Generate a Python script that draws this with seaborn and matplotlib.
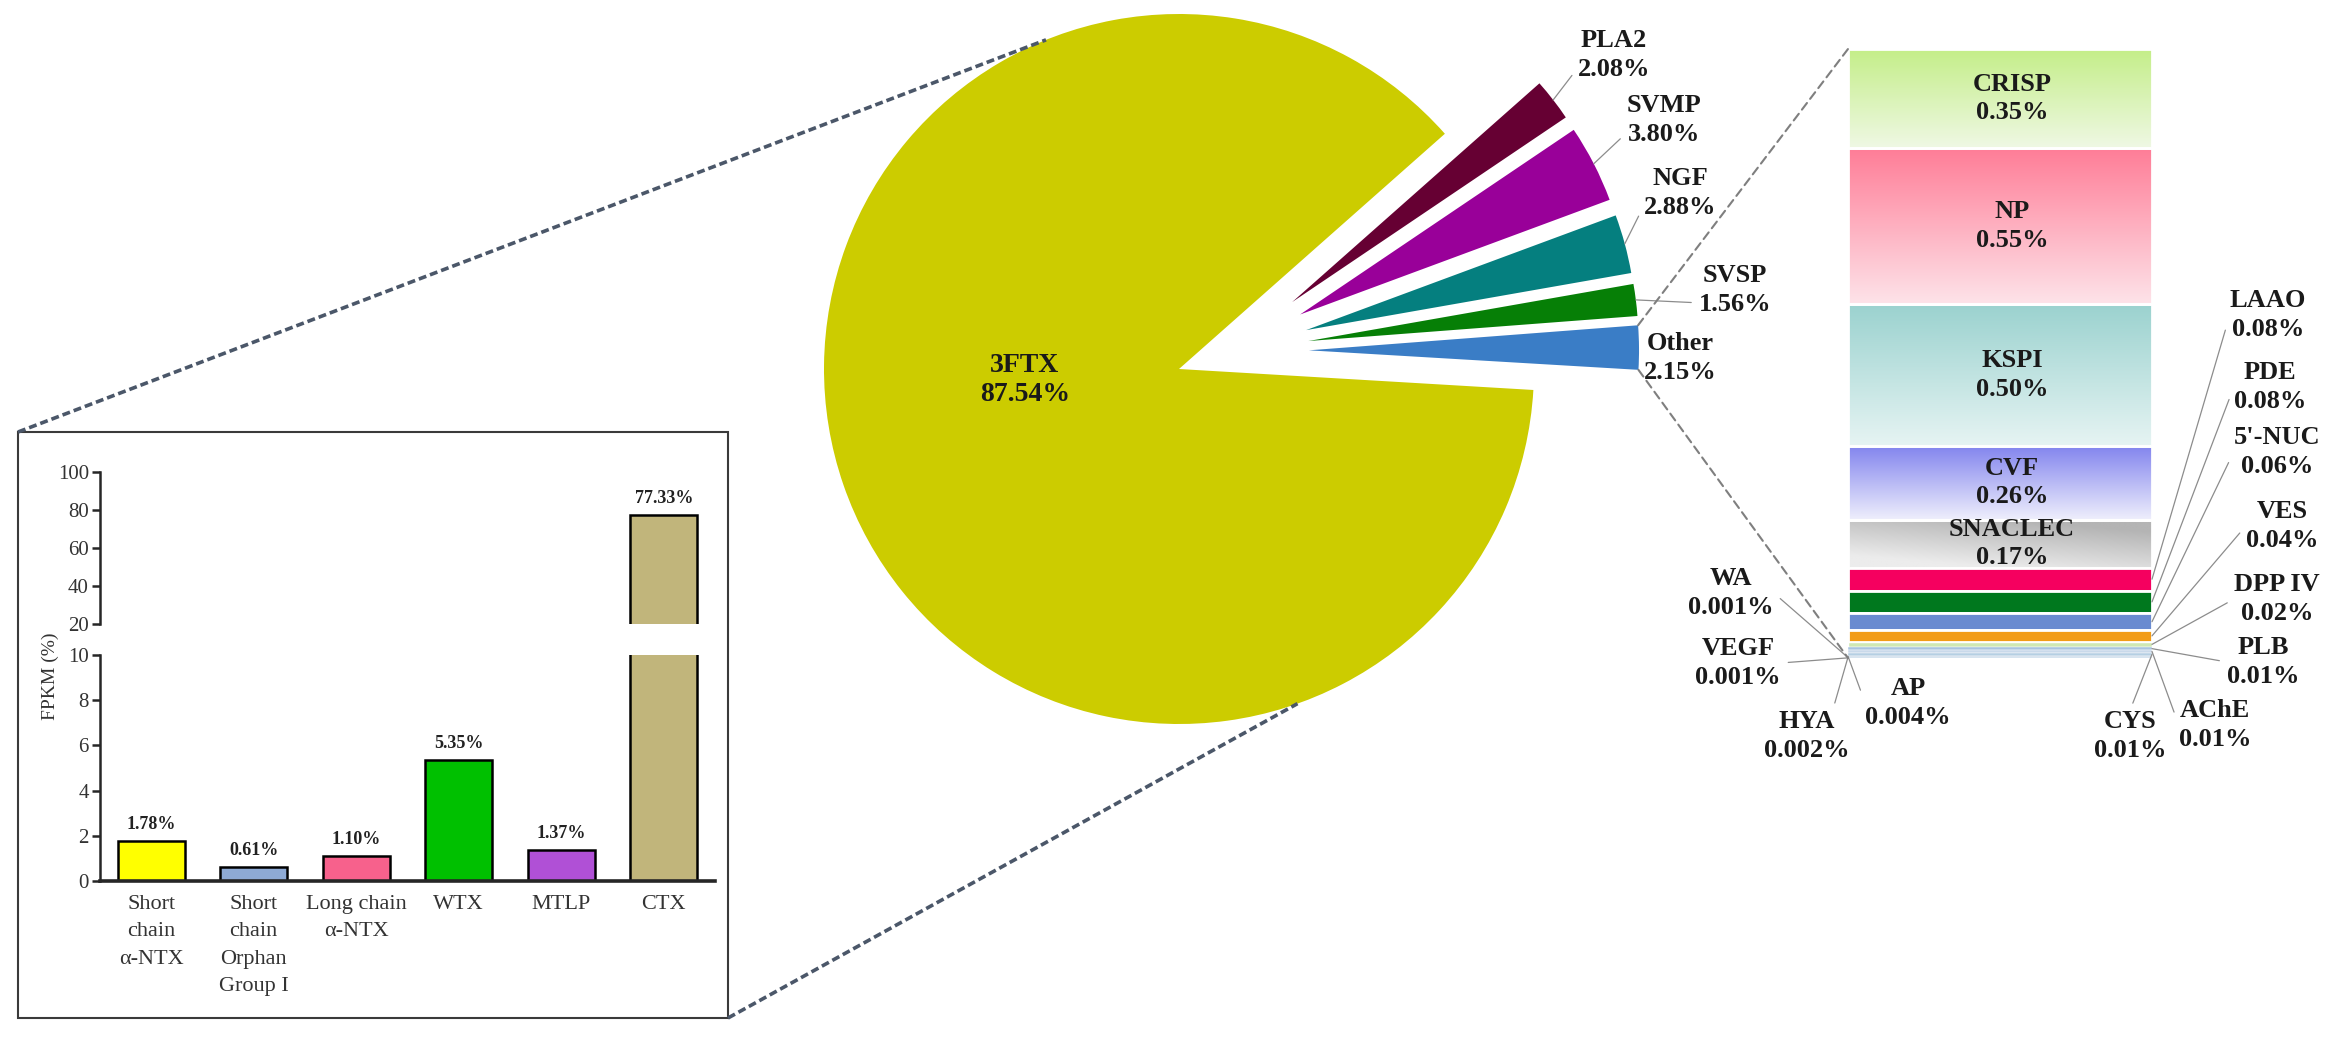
"""
Venom transcriptome composition: 3FTX breakdown, main pie, and 'Other' breakdown.
"""
import matplotlib
matplotlib.use('Agg')
import matplotlib.pyplot as plt
import numpy as np
import seaborn as sns
from matplotlib.colors import to_rgb
from matplotlib.patches import ConnectionPatch, Rectangle

# ---- data ----
pie_labels = ['3FTX', 'Other', 'SVSP', 'NGF', 'SVMP', 'PLA2']
pie_values = [87.54, 2.15, 1.56, 2.88, 3.80, 2.08]

ftx_labels = ['Short\nchain\nα-NTX', 'Short\nchain\nOrphan\nGroup I', 'Long chain\nα-NTX',
              'WTX', 'MTLP', 'CTX']
ftx_values = [1.78, 0.61, 1.10, 5.35, 1.37, 77.33]

other_labels = ['CRISP', 'NP', 'KSPI', 'CVF', 'SNACLEC', 'LAAO', 'PDE', "5'-NUC", 'VES',
                'DPP IV', 'PLB', 'AChE', 'CYS', 'AP', 'HYA', 'WA', 'VEGF']
other_values = [0.35, 0.55, 0.50, 0.26, 0.17, 0.08, 0.08, 0.06, 0.04,
                0.02, 0.01, 0.01, 0.01, 0.004, 0.002, 0.001, 0.001]

# ---- style ----
W, H, DPI = 2336, 1038, 100
S = 355.0  # pixels per pie-radius unit
PIE_COLORS = ['#cccc00', '#3a7dc6', '#067f06', '#057f7f', '#990099', '#660033']
FTX_COLORS = ['#ffff00', '#8eaad5', '#f7618c', '#00c000', '#b050d6', '#c1b57b']
OTHER_COLORS = ['#dff4c0', '#fbb8c6', '#c6e6e4', '#c4c5f6', '#d6d6d6', '#f5005f', '#00781e',
                '#6a8bd0', '#f29c17', '#cfe8b4', '#a9c4df', '#c9d9ea', '#b5cfe3', '#9fb9d6',
                '#c6e0c0', '#aac5e0', '#8fb0d0']
GRADIENTS = {
    'CRISP': ('#c4ee88', '#eff8e4', 0.0),
    'NP': ('#ff7d97', '#fde3e9', 0.0),
    'KSPI': ('#9bd2cf', '#e6f4f3', 0.0),
    'CVF': ('#8385ee', '#efeffc', 0.0),
    'SNACLEC': ('#b4b4b4', '#ececec', 0.5),
}
# text centre (x, y from top, in pixels) and leader attach point on the text box
OUTSIDE = {
    'LAAO': (2268, 315, (0, 0.5), 'right'),
    'PDE': (2270, 387, (0, 0.5), 'right'),
    "5'-NUC": (2277, 452, (0, 0.5), 'right'),
    'VES': (2282, 526, (0, 0.5), 'right'),
    'DPP IV': (2277, 599, (0, 0.5), 'right'),
    'PLB': (2263, 662, (0, 0.5), 'right'),
    'AChE': (2215, 725, (0, 0.5), 'right'),
    'CYS': (2130, 736, (0.5, 1.0), 'right'),
    'AP': (1908, 703, (0, 0.5), 'left'),
    'HYA': (1807, 736, (0.8, 1.0), 'left'),
    'VEGF': (1738, 663, (1, 0.5), 'left'),
    'WA': (1731, 593, (1, 0.5), 'left'),
}
PIE_TEXT = {
    '3FTX': (1025, 380),
    'PLA2': (1614, 55),
    'SVMP': (1664, 120),
    'NGF': (1680, 193),
    'SVSP': (1735, 290),
    'Other': (1680, 358),
}
LABEL_KW = dict(fontsize=19, fontweight='bold', color='#1a1a1a', linespacing=1.3,
                ha='center', va='center')
LEADER = dict(arrowstyle='-', color='#8c8c8c', lw=0.9, shrinkA=3, shrinkB=0)


def P(x, y):
    # pixel position (from top-left) -> overlay data units
    return x / S, (H - y) / S


def pct(v):
    return f'{v:.2f}%' if v >= 0.01 else f'{v:.3f}%'


def gradient(top, bottom, side):
    t = np.linspace(0, 1, 150)[:, None]
    s = np.linspace(0, 1, 60)[None, :]
    w = np.clip(t + side * (0.5 - s), 0, 1)
    c0, c1 = np.array(to_rgb(top)), np.array(to_rgb(bottom))
    return c0 + (c1 - c0) * w[..., None]


sns.set_theme(style='ticks')
plt.rcParams['font.family'] = ['Liberation Serif', 'DejaVu Serif']

fig = plt.figure(figsize=(W / DPI, H / DPI), dpi=DPI)

# ---- main pie on a full-figure overlay ----
ax = fig.add_axes([0, 0, 1, 1])
center = np.array(P(1179, 369))
start = 41.5
big, _ = ax.pie(pie_values, colors=PIE_COLORS, startangle=start, center=center, radius=1.0,
                wedgeprops=dict(linewidth=0))
for w in big[1:]:
    w.set_visible(False)
small, _ = ax.pie(pie_values, colors=PIE_COLORS, startangle=start,
                  center=center + np.array([50, 18]) / S, radius=0.93,
                  explode=[0] + [0.225] * 5, wedgeprops=dict(linewidth=0))
small[0].set_visible(False)
ax.set_xlim(0, W / S)
ax.set_ylim(0, H / S)
ax.set_aspect('auto')
ax.axis('off')

for i, name in enumerate(pie_labels):
    txt = f'{name}\n{pie_values[i]:.2f}%'
    pos = P(*PIE_TEXT[name])
    if name == '3FTX':
        ax.text(*pos, txt, **{**LABEL_KW, 'fontsize': 20, 'linespacing': 1.2})
        continue
    if name == 'Other':
        ax.text(*pos, txt, **LABEL_KW)
        continue
    w = small[i]
    tm = np.deg2rad((w.theta1 + w.theta2) / 2)
    arc = (w.center[0] + w.r * np.cos(tm), w.center[1] + w.r * np.sin(tm))
    ax.annotate(txt, xy=arc, xytext=pos, arrowprops=dict(relpos=(0, 0.25), **LEADER),
                **LABEL_KW)

# inset box and its dashed connectors to the 3FTX slice
ax.add_patch(Rectangle(P(18, 1018), (728 - 18) / S, (1018 - 432) / S, fill=False,
                       edgecolor='#3a3a3a', lw=1.5))
for corner, ang in ((P(18, 432), 112), (P(728, 1018), -70.5)):
    end = center + np.array([np.cos(np.deg2rad(ang)), np.sin(np.deg2rad(ang))])
    ax.plot([corner[0], end[0]], [corner[1], end[1]], color='#4b5769', lw=2.6,
            dashes=(2.2, 1.1), solid_capstyle='butt')

# ---- 'Other' stacked bar ----
ax_st = fig.add_axes([1848 / W, (H - 658) / H, 304 / W, 609 / H])
vals = np.array(other_values)
bottoms = np.concatenate([[0], np.cumsum(vals)[:-1]])
lws = [2 if v >= 0.04 else (1 if v >= 0.02 else 0.3) for v in vals]
bars = ax_st.bar(np.zeros(len(vals)), vals, bottom=bottoms, width=1.0, color=OTHER_COLORS,
                 edgecolor='white', linewidth=lws)
total = vals.sum()
for name, (top, bot, side) in GRADIENTS.items():
    i = other_labels.index(name)
    patch = bars[i]
    patch.set_facecolor('none')
    y0, y1 = bottoms[i], bottoms[i] + vals[i]
    im = ax_st.imshow(gradient(top, bot, side), extent=(-0.5, 0.5, y1, y0), origin='upper',
                      aspect='auto', interpolation='bilinear', zorder=0.5)
    im.set_clip_path(patch)
ax_st.set_xlim(-0.5, 0.5)
ax_st.set_ylim(total, 0)
ax_st.axis('off')

for i in range(5):
    ax_st.text(0.04, bottoms[i] + vals[i] / 2, f'{other_labels[i]}\n{pct(vals[i])}',
               zorder=5, **LABEL_KW)

for name, (tx, ty, rel, side) in OUTSIDE.items():
    i = other_labels.index(name)
    xe = 0.5 if side == 'right' else -0.5
    ax_st.annotate(f'{name}\n{pct(vals[i])}', xy=(xe, bottoms[i] + vals[i] / 2),
                   xytext=(tx, H - ty), textcoords='figure pixels', annotation_clip=False,
                   arrowprops=dict(relpos=rel, **LEADER), **LABEL_KW)

# dashed lines from the 'Other' slice to the stacked bar
ow = small[pie_labels.index('Other')]
for theta, yb in ((ow.theta2, 0), (ow.theta1, total)):
    t = np.deg2rad(theta)
    xa = (ow.center[0] + ow.r * np.cos(t), ow.center[1] + ow.r * np.sin(t))
    con = ConnectionPatch(xyA=xa, coordsA='data', axesA=ax, xyB=(-0.5, yb), coordsB='data',
                          axesB=ax_st, color='#7f7f7f', lw=1.5, linestyle=(0, (4, 2.5)))
    fig.add_artist(con)

# ---- 3FTX breakdown, broken y axis ----
ax_lo = fig.add_axes([100 / W, (H - 881) / H, 615 / W, 226 / H])
ax_hi = fig.add_axes([100 / W, (H - 624) / H, 615 / W, 152 / H])
for a in (ax_lo, ax_hi):
    sns.barplot(x=ftx_labels, y=ftx_values, hue=ftx_labels, palette=FTX_COLORS, legend=False,
                saturation=1, width=0.65, edgecolor='black', linewidth=1.8, ax=a)
    a.set_xlim(-0.5, 5.5)
    a.set_xlabel('')
    a.set_ylabel('')
    a.set_facecolor('none')
    for side in ('top', 'right'):
        a.spines[side].set_visible(False)
    a.spines['left'].set_linewidth(1.8)
    a.tick_params(axis='y', length=6, width=1.8, labelsize=15, pad=2, labelcolor='#333333')

ax_lo.set_ylim(0, 10)
ax_lo.set_yticks(range(0, 11, 2))
ax_lo.spines['bottom'].set_linewidth(2.6)
ax_lo.tick_params(axis='x', length=0, pad=10, labelsize=16, labelcolor='#333333')
for lab in ax_lo.get_xticklabels():
    lab.set_linespacing(1.6)

ax_hi.set_ylim(20, 100)
ax_hi.set_yticks(range(20, 101, 20))
ax_hi.spines['bottom'].set_visible(False)
ax_hi.set_xticks([])

for i, v in enumerate(ftx_values):
    a = ax_hi if v > 10 else ax_lo
    a.annotate(f'{v:.2f}%', xy=(i, v), xytext=(0, 12), textcoords='offset points',
               ha='center', va='center', fontsize=13, fontweight='bold', color='#222222')

fig.text(50 / W, 1 - 676 / H, 'FPKM (%)', rotation=90, ha='center', va='center',
         fontsize=14, color='#333333')

fig.savefig('out.png', dpi=DPI)
